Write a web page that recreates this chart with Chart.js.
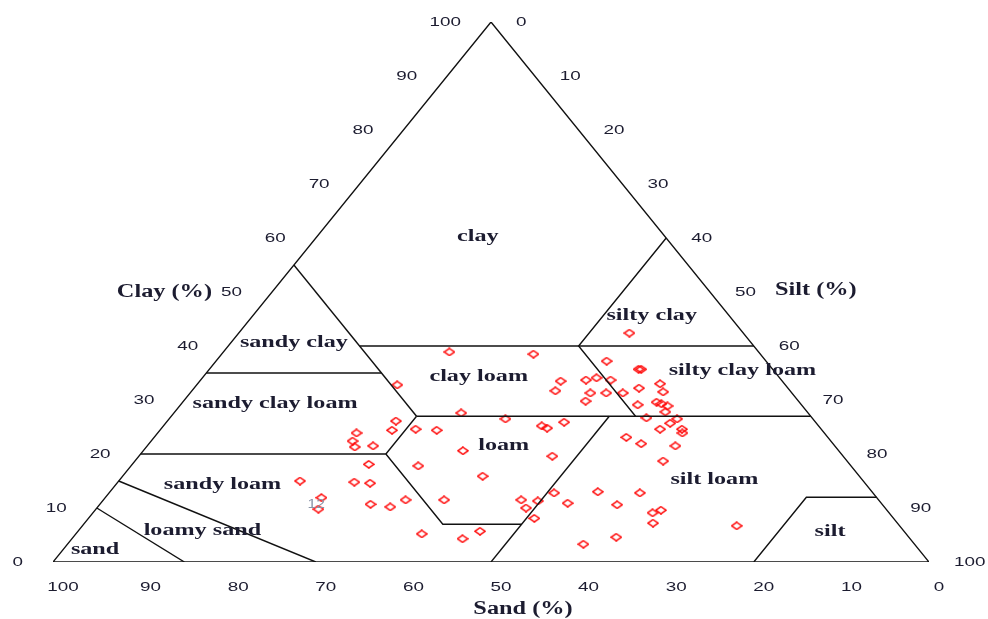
<!DOCTYPE html>
<html>
<head>
<meta charset="utf-8">
<script src="https://cdn.jsdelivr.net/npm/chart.js@4.4.1/dist/chart.umd.min.js"></script>
<style>
  body { margin: 0; background: #fff; }
  canvas { display: block; }
</style>
</head>
<body>
<canvas id="soilChart" width="988" height="619"></canvas>
<script>
// sample compositions, percent (silt = 100 - sand - clay)
var sandPct = [35.3, 25.9, 44.3, 25.3, 26.8, 22.3, 20.9, 23.0, 24.3, 39.6,
  35.1, 31.6, 31.2, 28.7, 44.0, 42.9, 13.0, 18.2, 15.3, 15.0,
  19.5, 21.2, 19.3, 17.0, 14.2, 14.6, 18.7, 16.3, 15.9, 15.4,
  16.2, 18.9, 15.5, 16.7, 18.4, 15.9, 16.2, 23.0, 21.9, 18.2,
  46.3, 47.8, 49.1, 53.4, 54.6, 52.7, 54.9, 54.9, 49.4, 64.3,
  58.2, 56.5, 63.4, 64.8, 58.4, 56.4, 54.0, 55.3, 33.2, 43.0,
  49.6, 40.8, 41.0, 39.0, 36.4, 35.8, 31.3, 41.0, 48.4, 51.1,
  37.8, 21.0, 26.6, 30.3, 25.8, 27.0, 27.9, 33.4, 18.6];
var clayPct = [38.9, 38.5, 32.8, 33.5, 31.7, 33.7, 34.1, 31.3, 29.8, 27.6,
  26.5, 25.2, 24.8, 25.9, 24.4, 20.6, 42.4, 37.2, 35.7, 35.7,
  33.7, 31.3, 31.3, 32.2, 33.0, 31.5, 29.1, 29.6, 29.3, 28.9,
  27.8, 26.7, 26.5, 25.7, 24.6, 24.6, 23.9, 23.1, 21.9, 21.5,
  24.6, 26.1, 24.4, 23.9, 22.4, 21.5, 21.3, 18.1, 17.8, 15.0,
  14.8, 14.6, 11.9, 9.8, 10.7, 10.2, 11.5, 5.2, 19.6, 15.9,
  11.5, 11.5, 10.0, 11.3, 12.8, 10.9, 13.0, 8.1, 5.7, 4.3,
  3.3, 18.7, 12.8, 10.6, 9.6, 9.1, 7.2, 4.6, 6.7];

var tickValues = [0, 10, 20, 30, 40, 50, 60, 70, 80, 90, 100];

// texture class boundary lines, each point is [sand, clay]
var boundaryLines = [
  [[100, 0], [0, 0], [0, 100], [100, 0]],
  [[90, 10], [85, 0]],
  [[85, 15], [70, 0]],
  [[80, 20], [52, 20], [52, 7], [43, 7]],
  [[52, 20], [45, 27]],
  [[45, 27], [0, 27]],
  [[45, 27], [45, 55]],
  [[65, 35], [45, 35]],
  [[45, 40], [0, 40]],
  [[20, 27], [20, 40], [0, 60]],
  [[23, 27], [50, 0]],
  [[20, 0], [8, 12], [0, 12]]
];

var classNames = ["clay", "silty clay", "sandy clay", "clay loam", "silty clay loam",
  "sandy clay loam", "loam", "sandy loam", "silt loam", "loamy sand", "sand", "silt"];
var classSand = [21.4, 8.8, 52.2, 34.2, 3.6, 60.0, 37.8, 73.5, 16.9, 80.0, 94.0, 8.5];
var classClay = [60.2, 45.7, 40.6, 34.4, 35.4, 29.3, 21.5, 14.3, 15.2, 5.9, 2.4, 5.6];

// sand/clay -> position inside the triangle
function toXY(sand, clay) {
  return { x: 100 - sand - clay / 2, y: clay };
}

// hollow diamond marker, a bit flatter than wide like the original
function makeDiamond() {
  var c = document.createElement("canvas");
  c.width = 12;
  c.height = 9;
  var g = c.getContext("2d");
  g.strokeStyle = "#ff0000";
  g.lineWidth = 1.5;
  g.beginPath();
  g.moveTo(6, 1);
  g.lineTo(11, 4.5);
  g.lineTo(6, 8);
  g.lineTo(1, 4.5);
  g.closePath();
  g.stroke();
  return c;
}

var datasets = boundaryLines.map(function (line) {
  return {
    data: line.map(function (p) { return toXY(p[0], p[1]); }),
    showLine: true,
    borderColor: "#111",
    borderWidth: 1.4,
    pointRadius: 0,
    fill: false,
  };
});

datasets.push({
  data: sandPct.map(function (s, i) { return toXY(s, clayPct[i]); }),
  showLine: false,
  pointStyle: makeDiamond(),
  pointRadius: 5,
});

var textColor = "#1c1c30";

function drawText(ctx, text, px, py, font, align, sx, color) {
  ctx.save();
  ctx.translate(px, py);
  ctx.scale(sx, 1);
  ctx.font = font;
  ctx.fillStyle = color || textColor;
  ctx.textAlign = align;
  ctx.textBaseline = "middle";
  ctx.fillText(text, 0, 0);
  ctx.restore();
}

var textPlugin = {
  id: "triangleText",
  afterDraw: function (chart) {
    var ctx = chart.ctx;
    var xs = chart.scales.x;
    var ys = chart.scales.y;
    var tickFont = "13px 'Liberation Sans', Arial, sans-serif";
    var classFont = "bold 17.5px 'Liberation Serif', 'Times New Roman', serif";
    var titleFont = "bold 18px 'Liberation Serif', 'Times New Roman', serif";

    tickValues.forEach(function (v) {
      // clay along the left edge
      var px = xs.getPixelForValue(v / 2);
      var py = ys.getPixelForValue(v);
      drawText(ctx, String(v), px - 30, py, tickFont, "right", 1.45);
      // silt along the right edge
      px = xs.getPixelForValue(v + (100 - v) / 2);
      py = ys.getPixelForValue(100 - v);
      drawText(ctx, String(v), px + 25, py, tickFont, "left", 1.45);
      // sand along the bottom
      px = xs.getPixelForValue(100 - v);
      py = ys.getPixelForValue(0);
      drawText(ctx, String(v), px + 10, py + 25, tickFont, "center", 1.45);
    });

    drawText(ctx, "Clay (%)", xs.getPixelForValue(25) - 60, ys.getPixelForValue(50),
      titleFont, "right", 1.35);
    drawText(ctx, "Silt (%)", xs.getPixelForValue(75) + 65, ys.getPixelForValue(50) - 2,
      titleFont, "left", 1.35);
    drawText(ctx, "Sand (%)", xs.getPixelForValue(50) + 32, ys.getPixelForValue(0) + 47,
      titleFont, "center", 1.35);

    classNames.forEach(function (name, i) {
      var p = toXY(classSand[i], classClay[i]);
      drawText(ctx, name, xs.getPixelForValue(p.x), ys.getPixelForValue(p.y),
        classFont, "center", 1.38);
    });

    // stray point number left on the plot
    var n = toXY(64.6, 10.7);
    drawText(ctx, "12", xs.getPixelForValue(n.x), ys.getPixelForValue(n.y),
      "12px 'Liberation Sans', Arial, sans-serif", "center", 1.3, "#8a94a8");
  },
};

new Chart(document.getElementById("soilChart").getContext("2d"), {
  type: "scatter",
  data: { datasets: datasets },
  options: {
    responsive: false,
    animation: false,
    layout: { padding: { left: 53, right: 59, top: 22, bottom: 57 } },
    scales: {
      x: { type: "linear", min: 0, max: 100, display: false },
      y: { type: "linear", min: 0, max: 100, display: false },
    },
    plugins: {
      legend: { display: false },
      tooltip: { enabled: false },
    },
  },
  plugins: [textPlugin],
});
</script>
</body>
</html>
